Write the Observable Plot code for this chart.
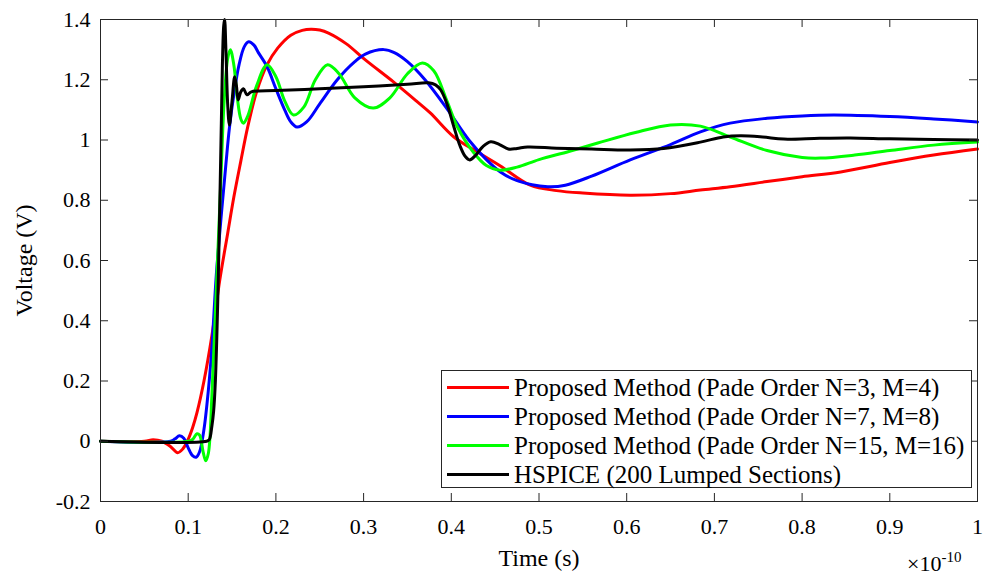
<!DOCTYPE html>
<html><head><meta charset="utf-8">
<script src="https://cdn.jsdelivr.net/npm/d3@7"></script>
<script src="https://cdn.jsdelivr.net/npm/@observablehq/plot@0.6"></script>
<style>
body{margin:0;background:#fff;}
#wrap{position:relative;width:984px;height:576px;color:#000;}
</style></head><body>
<div id="wrap"><div id="chart"></div></div>
<script>
const seriesNames = [
  "Proposed Method (Pade Order N=3, M=4)",
  "Proposed Method (Pade Order N=7, M=8)",
  "Proposed Method (Pade Order N=15, M=16)",
  "HSPICE (200 Lumped Sections)"
];
const seriesColors = ["#ff0000", "#0000ff", "#00ff00", "#000000"];
const xTicks = [0, 0.1, 0.2, 0.3, 0.4, 0.5, 0.6, 0.7, 0.8, 0.9, 1];
const yTicks = [-0.2, 0, 0.2, 0.4, 0.6, 0.8, 1, 1.2, 1.4];

// [time (x1e-10 s), voltage (V)]
const red = [[0,0],[0.05,0],[0.06,0.005],[0.07,0.0],[0.08,-0.018],[0.088,-0.038],[0.094,-0.025],[0.099,0.0],[0.105,0.045],[0.11,0.095],[0.118,0.2],[0.127,0.35],[0.136,0.535],[0.145,0.69],[0.152,0.81],[0.16,0.93],[0.168,1.045],[0.178,1.16],[0.19,1.25],[0.202,1.305],[0.217,1.348],[0.23,1.364],[0.24,1.368],[0.25,1.365],[0.26,1.355],[0.28,1.32],[0.302,1.266],[0.334,1.193],[0.36,1.13],[0.376,1.09],[0.403,1.01],[0.43,0.96],[0.456,0.914],[0.49,0.85],[0.52,0.832],[0.55,0.824],[0.604,0.817],[0.65,0.822],[0.684,0.834],[0.718,0.845],[0.76,0.862],[0.8,0.878],[0.844,0.894],[0.9,0.925],[0.95,0.95],[1.0,0.97]];
const blue = [[0,0],[0.08,0],[0.085,0.008],[0.09,0.018],[0.095,0.01],[0.1,-0.022],[0.105,-0.048],[0.109,-0.053],[0.113,-0.035],[0.118,0.04],[0.123,0.17],[0.127,0.31],[0.132,0.55],[0.138,0.76],[0.143,0.92],[0.147,1.04],[0.152,1.15],[0.158,1.25],[0.164,1.31],[0.169,1.326],[0.175,1.315],[0.18,1.29],[0.19,1.243],[0.2,1.17],[0.21,1.1],[0.217,1.06],[0.224,1.043],[0.235,1.06],[0.25,1.12],[0.27,1.2],[0.29,1.26],[0.302,1.285],[0.323,1.3],[0.335,1.29],[0.35,1.26],[0.37,1.2],[0.396,1.1],[0.42,1.0],[0.44,0.935],[0.456,0.894],[0.475,0.865],[0.51,0.845],[0.53,0.85],[0.56,0.88],[0.604,0.934],[0.65,0.985],[0.684,1.027],[0.718,1.056],[0.76,1.072],[0.8,1.08],[0.836,1.083],[0.9,1.078],[0.95,1.07],[1.0,1.06]];
const green = [[0,0],[0.1,0],[0.105,0.006],[0.11,0.025],[0.113,0.02],[0.117,-0.035],[0.12,-0.065],[0.123,-0.04],[0.127,0.15],[0.132,0.5],[0.137,0.85],[0.141,1.13],[0.145,1.27],[0.148,1.3],[0.152,1.25],[0.156,1.14],[0.16,1.07],[0.163,1.056],[0.168,1.08],[0.178,1.18],[0.19,1.25],[0.2,1.21],[0.21,1.13],[0.22,1.083],[0.232,1.11],[0.245,1.2],[0.259,1.25],[0.272,1.22],[0.29,1.14],[0.311,1.106],[0.33,1.14],[0.35,1.22],[0.367,1.256],[0.38,1.23],[0.395,1.13],[0.407,1.043],[0.425,0.96],[0.44,0.915],[0.455,0.9],[0.475,0.91],[0.5,0.935],[0.534,0.962],[0.567,0.99],[0.61,1.025],[0.65,1.05],[0.684,1.046],[0.718,1.01],[0.76,0.965],[0.8,0.942],[0.821,0.94],[0.86,0.95],[0.9,0.965],[0.95,0.983],[1.0,0.993]];
const hspice = [[0,0],[0.121,0],[0.124,0.005],[0.127,0.05],[0.129,0.1],[0.131,0.2],[0.134,0.5],[0.137,0.934],[0.139,1.25],[0.1405,1.38],[0.1415,1.4],[0.143,1.3],[0.145,1.12],[0.147,1.05],[0.15,1.13],[0.153,1.21],[0.155,1.18],[0.157,1.133],[0.16,1.16],[0.163,1.17],[0.167,1.15],[0.172,1.16],[0.2,1.164],[0.25,1.17],[0.3,1.177],[0.35,1.185],[0.374,1.19],[0.382,1.183],[0.388,1.166],[0.395,1.12],[0.403,1.043],[0.41,0.98],[0.416,0.945],[0.421,0.934],[0.428,0.95],[0.436,0.978],[0.445,0.994],[0.455,0.985],[0.465,0.97],[0.475,0.972],[0.487,0.977],[0.52,0.973],[0.56,0.97],[0.604,0.967],[0.642,0.972],[0.684,0.993],[0.71,1.01],[0.73,1.014],[0.755,1.01],[0.779,1.003],[0.82,1.006],[0.855,1.007],[0.9,1.004],[0.95,1.002],[1.0,1.0]];
const seriesData = [red, blue, green, hspice];

const W = 984, H = 576, mL = 100, mR = 7, mT = 19, mB = 75;
const pw = W - mL - mR, ph = H - mT - mB, tl = 8;
const fmt = d => String(+d.toFixed(1));
const FONT = '"Liberation Serif"';

const lineMarks = seriesData.map((s, i) =>
  Plot.line(s, {x: d => d[0], y: d => d[1], stroke: seriesColors[i], strokeWidth: 3, curve: "catmull-rom"}));

const chart = Plot.plot({
  width: W, height: H,
  marginLeft: mL, marginRight: mR, marginTop: mT, marginBottom: mB,
  x: {domain: [0, 1]},
  y: {domain: [-0.2, 1.4]},
  marks: [
    ...lineMarks,
    Plot.tickX(xTicks, {x: d => d, insetTop: ph - tl, stroke: "#262626"}),
    Plot.tickX(xTicks, {x: d => d, insetBottom: ph - tl, stroke: "#262626"}),
    Plot.tickY(yTicks, {y: d => d, insetRight: pw - tl, stroke: "#262626"}),
    Plot.tickY(yTicks, {y: d => d, insetLeft: pw - tl, stroke: "#262626"}),
    Plot.frame({stroke: "#262626"}),
    Plot.axisX(xTicks, {tickSize: 0, tickPadding: 17, tickFormat: fmt, fontSize: 22, label: null}),
    Plot.axisX({ticks: [], tickSize: 0, fontSize: 24, label: "Time (s)", labelAnchor: "center", labelArrow: "none", labelOffset: 64}),
    Plot.axisY(yTicks, {tickSize: 0, tickPadding: 10, tickFormat: fmt, fontSize: 22, label: null}),
    Plot.axisY({ticks: [], tickSize: 0, fontSize: 24, label: "Voltage (V)", labelAnchor: "center", labelArrow: "none", labelOffset: 86})
  ]
});
document.getElementById("chart").appendChild(chart);
chart.style.fontFamily = FONT;
d3.select(chart).selectAll("text").attr("font-family", "Liberation Serif").style("font-family", FONT);

const wrap = document.getElementById("wrap");
const legend = document.createElement("div");
Object.assign(legend.style, {position: "absolute", left: "441px", top: "370px", width: "531px", height: "118px",
  border: "1px solid #262626", background: "#fff", boxSizing: "border-box", fontFamily: FONT});
wrap.appendChild(legend);
seriesNames.forEach((n, i) => {
  const it = document.createElement("div");
  Object.assign(it.style, {position: "absolute", left: "5px", top: (2 + i * 29) + "px", height: "29px",
    display: "flex", alignItems: "center", fontSize: "25px", whiteSpace: "nowrap", fontFamily: FONT});
  const sw = document.createElement("span");
  Object.assign(sw.style, {display: "inline-block", width: "62px", height: "3px", marginRight: "5px", background: seriesColors[i]});
  const tx = document.createElement("span");
  tx.style.fontFamily = FONT;
  tx.textContent = n;
  it.appendChild(sw); it.appendChild(tx);
  legend.appendChild(it);
});

const ex = document.createElement("div");
Object.assign(ex.style, {position: "absolute", left: "907px", top: "552px", fontSize: "22px", lineHeight: "24px", whiteSpace: "nowrap", fontFamily: FONT});
ex.textContent = "×10";
const sup = document.createElement("span");
Object.assign(sup.style, {fontSize: "15px", position: "relative", top: "-9px", fontFamily: FONT});
sup.textContent = "-10";
ex.appendChild(sup);
wrap.appendChild(ex);
</script>
</body></html>
